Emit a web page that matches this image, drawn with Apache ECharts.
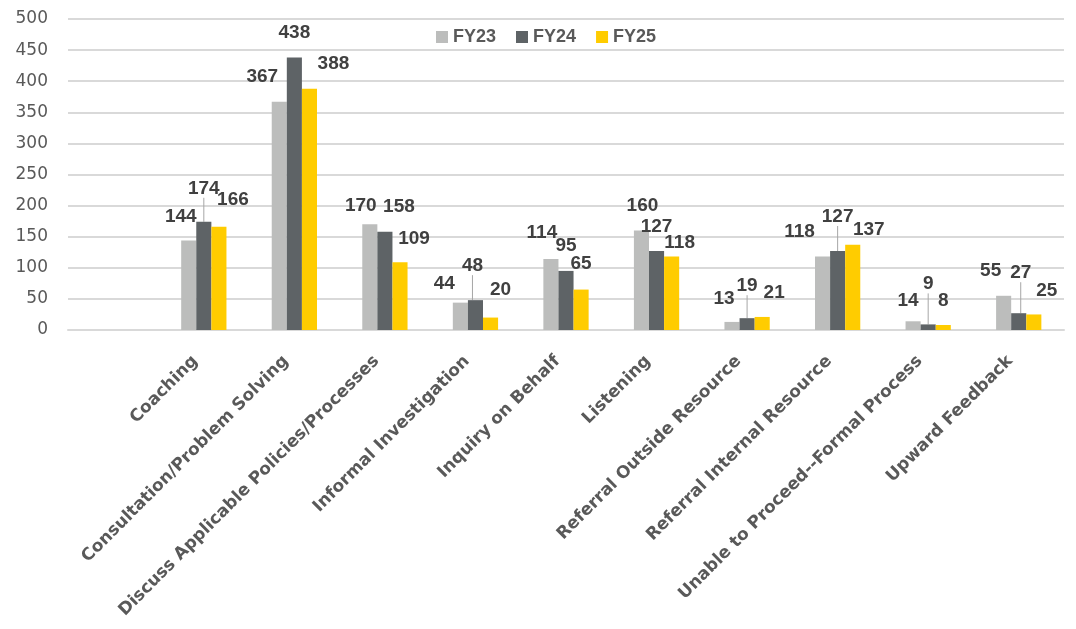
<!DOCTYPE html>
<html>
<head>
<meta charset="utf-8">
<script src="https://cdn.jsdelivr.net/npm/echarts@6/dist/echarts.min.js"></script>
<style>
  html, body { margin: 0; padding: 0; background: #fff; }
  #chart { width: 1076px; height: 629px; }
</style>
</head>
<body>
<div id="chart"></div>
<script>
// categories (first slot is empty, as in the source chart)
const categories = [
  "",
  "Coaching",
  "Consultation/Problem Solving",
  "Discuss Applicable Policies/Processes",
  "Informal Investigation",
  "Inquiry on Behalf",
  "Listening",
  "Referral Outside Resource",
  "Referral Internal Resource",
  "Unable to Proceed--Formal Process",
  "Upward Feedback"
];
const fy23 = [null, 144, 367, 170, 44, 114, 160, 13, 118, 14, 55];
const fy24 = [null, 174, 438, 158, 48, 95, 127, 19, 127, 9, 27];
const fy25 = [null, 166, 388, 109, 20, 65, 118, 21, 137, 8, 25];

// hand placement of data labels (dx, dy from default top position), like the Excel source
const nudge = [
  [null, [-8, -9], [-17, -10], [-9, -4], [-16, -4], [-9, -12], [1, -10], [-8, -9], [-23, -10], [-5, -6], [-13, -11]],
  [null, [0, -19], [0, -10], [14, -10], [-3, -20], [0, -11], [0, -10], [0, -18], [0, -20], [0, -26], [2, -26]],
  [null, [14, -12], [24, -10], [14, -9], [10, -13], [0, -11], [8, 1], [12, -10], [16, -1], [0, -10], [13, -9]]
];
// labels that get a leader line
const leader = [[], [1, 4, 7, 8, 9, 10], []];

const COLORS = ["#bcbdbc", "#5e6366", "#ffcc00"];
const FONT = "'Liberation Sans', Arial, sans-serif";

const chart = echarts.init(document.getElementById("chart"));

const makeSeries = (name, values, idx) => ({
  name,
  type: "bar",
  barGap: "0%",
  barCategoryGap: "50%",
  itemStyle: { color: COLORS[idx] },
  data: values.map((v, i) => ({
    value: v,
    labelLine: { show: leader[idx].includes(i) }
  })),
  label: {
    show: true,
    position: "top",
    distance: 5,
    fontFamily: FONT,
    fontWeight: "bold",
    fontSize: 19,
    color: "#404040"
  },
  labelLine: {
    show: false,
    lineStyle: { color: "#a6a6a6", width: 1 }
  },
  labelLayout: (params) => {
    const n = nudge[idx][params.dataIndex];
    if (!n) return {};
    return { dx: n[0], dy: n[1] };
  }
});

const option = {
  animation: false,
  backgroundColor: "#ffffff",
  legend: {
    top: 23,
    left: 431,
    itemWidth: 12,
    itemHeight: 12,
    itemGap: 20,
    icon: "rect",
    textStyle: {
      fontFamily: FONT,
      fontWeight: "bold",
      fontSize: 18,
      color: "#595959"
    },
    data: ["FY23", "FY24", "FY25"]
  },
  grid: {
    left: 68,
    right: 12,
    top: 19,
    bottom: 299,
    containLabel: false
  },
  xAxis: {
    type: "category",
    data: categories,
    axisLine: { show: true, lineStyle: { color: "#d9d9d9", width: 2 } },
    axisTick: { show: false },
    axisLabel: {
      interval: 0,
      rotate: 45,
      margin: 20,
      padding: [0, 12, 0, 0],
      fontFamily: "'DejaVu Sans', sans-serif",
      fontWeight: "bold",
      fontSize: 17,
      color: "#595959"
    }
  },
  yAxis: {
    type: "value",
    min: 0,
    max: 500,
    interval: 50,
    axisLine: { show: false },
    axisTick: { show: false },
    splitLine: { lineStyle: { color: "#d9d9d9", width: 2 } },
    axisLabel: {
      margin: 20,
      fontFamily: "'DejaVu Sans', sans-serif",
      fontSize: 17,
      color: "#595959"
    }
  },
  series: [
    makeSeries("FY23", fy23, 0),
    makeSeries("FY24", fy24, 1),
    makeSeries("FY25", fy25, 2)
  ]
};

chart.setOption(option);
</script>
</body>
</html>
